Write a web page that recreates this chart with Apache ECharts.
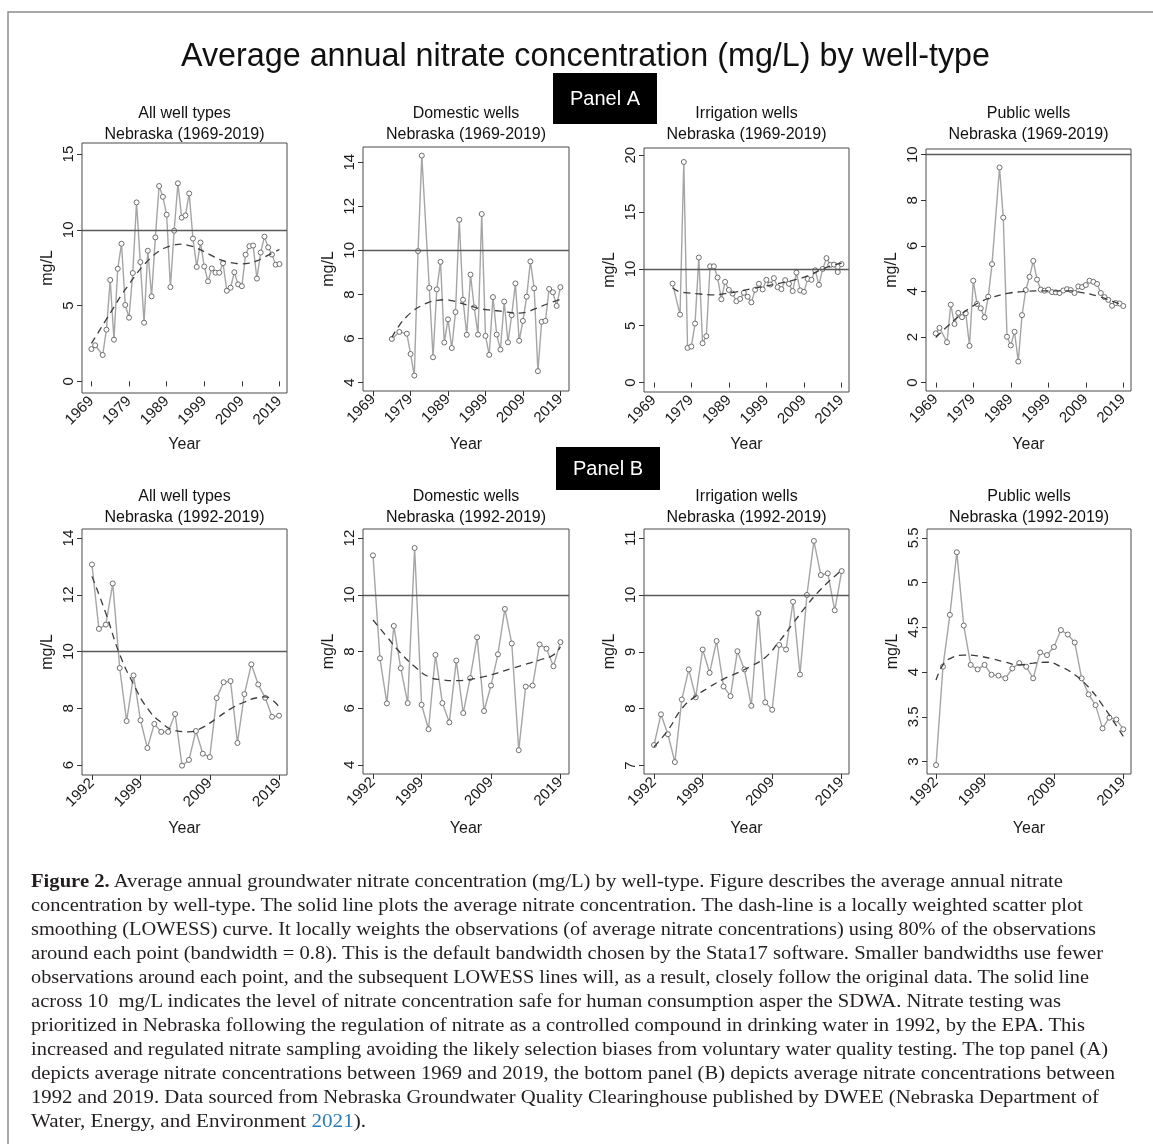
<!DOCTYPE html>
<html><head><meta charset="utf-8">
<script src="https://cdn.jsdelivr.net/npm/echarts@6/dist/echarts.min.js"></script>
<style>
html,body{margin:0;padding:0;background:#fff;}
#chart{position:absolute;left:0;top:0;width:1153px;height:1144px;}
#cap{position:absolute;left:31px;top:869px;font-family:"Liberation Serif","DejaVu Serif",serif;font-size:18px;line-height:24px;color:#231f20;}
#cap div{white-space:nowrap;transform-origin:0 50%;width:max-content;}
#cap .ref{color:#2b7bb9;}
</style></head><body>
<div id="chart"></div>
<div id="cap"></div>
<script>
// ---------------- data ----------------
const yearsAll = [1969,1970,1972,1973,1974,1975,1976,1977,1978,1979,1980,1981,1982,1983,1984,1985,1986,1987,1988,1989,1990,1991,1992,1993,1994,1995,1996,1997,1998,1999,2000,2001,2002,2003,2004,2005,2006,2007,2008,2009,2010,2011,2012,2013,2014,2015,2016,2017,2018,2019];
const valsAll  = [2.13,2.38,1.74,3.41,6.69,2.75,7.43,9.08,5.04,4.2,7.15,11.81,7.87,3.87,8.62,5.61,9.5,12.89,12.18,11.0,6.22,9.94,13.07,10.8,10.95,12.4,9.42,7.55,9.16,7.58,6.6,7.45,7.17,7.17,7.8,5.98,6.18,7.2,6.4,6.28,8.36,8.92,8.96,6.78,8.5,9.55,8.84,8.37,7.7,7.74];

const yearsDom = [1974,1976,1978,1979,1980,1981,1982,1984,1985,1986,1987,1988,1989,1990,1991,1992,1993,1994,1995,1996,1997,1998,1999,2000,2001,2002,2003,2004,2005,2006,2007,2008,2009,2010,2011,2012,2013,2014,2015,2016,2017,2018,2019];
const valsDom  = [5.98,6.3,6.22,5.3,4.32,9.97,14.3,8.3,5.15,8.23,9.48,5.82,6.87,5.57,7.2,11.39,7.76,6.17,8.9,7.41,6.18,11.65,6.12,5.26,7.88,6.18,5.5,7.68,5.83,7.06,8.5,5.9,6.8,7.9,9.5,8.28,4.52,6.76,6.8,8.25,8.1,7.48,8.33];

const yearsIrr = [1974,1976,1977,1978,1979,1980,1981,1982,1983,1984,1985,1986,1987,1988,1989,1990,1991,1992,1993,1994,1995,1996,1997,1998,1999,2000,2001,2002,2003,2004,2005,2006,2007,2008,2009,2010,2011,2012,2013,2014,2015,2016,2017,2018,2019];
const valsIrr  = [8.71,5.98,19.41,3.05,3.17,5.19,11.0,3.46,4.08,10.23,10.23,9.24,7.33,8.86,8.15,7.83,7.16,7.36,7.9,7.55,7.06,8.16,8.69,8.2,9.04,8.63,9.19,8.39,8.22,9.01,8.69,8.05,9.68,8.11,7.98,9.12,9.04,9.88,8.6,10.0,10.95,10.35,10.38,9.73,10.42];

const yearsPub = [1969,1970,1972,1973,1974,1975,1976,1977,1978,1979,1980,1981,1982,1983,1984,1986,1987,1988,1989,1990,1991,1992,1993,1994,1995,1996,1997,1998,1999,2000,2001,2002,2003,2004,2005,2006,2007,2008,2009,2010,2011,2012,2013,2014,2015,2016,2017,2018,2019];
const valsPub  = [2.16,2.4,1.77,3.42,2.57,3.06,2.87,3.04,1.61,4.47,3.45,3.26,2.86,3.77,5.2,9.44,7.24,2.01,1.63,2.23,0.92,2.96,4.06,4.64,5.34,4.52,4.08,4.03,4.08,3.97,3.96,3.93,4.04,4.1,4.06,3.93,4.22,4.19,4.28,4.47,4.42,4.33,3.93,3.75,3.63,3.37,3.49,3.47,3.36];

// LOWESS (dashed) curves
const lowAllAYears = [1969,1971,1973,1975,1977,1979,1981,1983,1985,1987,1989,1991,1993,1995,1997,1999,2001,2003,2005,2007,2009,2011,2013,2015,2017,2019];
const lowAllAVals  = [2.5,3.3,4.1,4.9,5.7,6.4,7.1,7.7,8.2,8.6,8.85,9.0,9.05,8.95,8.8,8.55,8.3,8.05,7.9,7.8,7.75,7.8,7.95,8.2,8.45,8.7];
const lowDomAYears = [1974,1976,1978,1980,1982,1984,1986,1988,1990,1992,1994,1996,1998,2000,2002,2004,2006,2008,2010,2012,2014,2016,2018,2019];
const lowDomAVals  = [6.05,6.6,7.0,7.3,7.5,7.65,7.73,7.76,7.72,7.63,7.52,7.42,7.34,7.3,7.26,7.22,7.17,7.15,7.2,7.33,7.47,7.6,7.72,7.78];
const lowIrrAYears = [1974,1976,1978,1981,1985,1988,1991,1995,1999,2003,2007,2010,2013,2016,2019];
const lowIrrAVals  = [8.35,7.98,7.9,7.8,7.72,7.83,7.98,8.25,8.5,8.77,9.08,9.38,9.85,10.25,10.5];
const lowPubAYears = [1969,1972,1975,1978,1981,1984,1988,1992,1996,2000,2005,2008,2012,2016,2019];
const lowPubAVals  = [1.98,2.45,2.89,3.26,3.55,3.74,3.91,3.99,4.02,4.02,4.02,3.95,3.8,3.58,3.38];

const lowAllBYears = [1992,1994,1996,1998,2000,2002,2004,2006,2008,2010,2012,2014,2016,2017,2018,2019];
const lowAllBVals  = [12.65,11.35,9.9,8.85,8.0,7.5,7.22,7.17,7.33,7.65,7.98,8.22,8.38,8.4,8.3,8.05];
const lowDomBYears = [1992,1994,1996,1998,2000,2002,2004,2006,2008,2010,2012,2014,2016,2018,2019];
const lowDomBVals  = [9.11,8.52,7.94,7.47,7.11,7.0,6.97,7.02,7.11,7.25,7.4,7.55,7.7,7.88,8.17];
const lowIrrBYears = [1992,1994,1996,1998,2000,2002,2004,2006,2008,2010,2012,2014,2016,2018,2019];
const lowIrrBVals  = [7.33,7.62,8.0,8.22,8.38,8.52,8.63,8.75,8.9,9.18,9.5,9.82,10.1,10.33,10.44];
const lowPubBYears = [1992,1993,1994,1996,1998,2000,2002,2004,2006,2008,2010,2012,2014,2016,2018,2019];
const lowPubBVals  = [3.91,4.08,4.15,4.19,4.18,4.15,4.11,4.08,4.1,4.11,4.06,3.97,3.83,3.63,3.4,3.28];

const xTicksA = [1969,1979,1989,1999,2009,2019];
const xTicksB = [1992,1999,2009,2019];
const yTicksAllA = [0,5,10,15];
const yTicksDomA = [4,6,8,10,12,14];
const yTicksIrrA = [0,5,10,15,20];
const yTicksPubA = [0,2,4,6,8,10];
const yTicksAllB = [6,8,10,12,14];
const yTicksDomB = [4,6,8,10,12];
const yTicksIrrB = [7,8,9,10,11];
const yTicksPubB = [3,3.5,4,4.5,5,5.5];
const safeLevel = 10;

const mainTitle = 'Average annual nitrate concentration (mg/L) by well-type';
const captionLines = [
 '<b>Figure 2.</b> Average annual groundwater nitrate concentration (mg/L) by well-type. Figure describes the average annual nitrate',
 'concentration by well-type. The solid line plots the average nitrate concentration. The dash-line is a locally weighted scatter plot',
 'smoothing (LOWESS) curve. It locally weights the observations (of average nitrate concentrations) using 80% of the observations',
 'around each point (bandwidth = 0.8). This is the default bandwidth chosen by the Stata17 software. Smaller bandwidths use fewer',
 'observations around each point, and the subsequent LOWESS lines will, as a result, closely follow the original data. The solid line',
 'across 10&nbsp; mg/L indicates the level of nitrate concentration safe for human consumption asper the SDWA. Nitrate testing was',
 'prioritized in Nebraska following the regulation of nitrate as a controlled compound in drinking water in 1992, by the EPA. This',
 'increased and regulated nitrate sampling avoiding the likely selection biases from voluntary water quality testing. The top panel (A)',
 'depicts average nitrate concentrations between 1969 and 2019, the bottom panel (B) depicts average nitrate concentrations between',
 '1992 and 2019. Data sourced from Nebraska Groundwater Quality Clearinghouse published by DWEE (Nebraska Department of',
 'Water, Energy, and Environment <span class="ref">2021</span>).'
];
const captionWidths = [1032,1052,1065,1072,1058,1030,1054,1077,1084,1068,335];

// ---------------- helpers ----------------
function pairs(ys, vs, from) {
  const out = [];
  ys.forEach((y, i) => { if (y >= from) out.push([y, vs[i]]); });
  return out;
}

const F = '"Liberation Sans", Arial, Helvetica, sans-serif';

const panels = [
  {t1:'All well types', t2:'Nebraska (1969-2019)', g:{left:82,top:143,width:205,height:250}, x:[1966.5,2021.0], y:[-0.77,15.73], xt:xTicksA, yt:yTicksAllA, d:pairs(yearsAll,valsAll,0), l:pairs(lowAllAYears,lowAllAVals,0), nameGapX:44},
  {t1:'Domestic wells', t2:'Nebraska (1969-2019)', g:{left:363,top:147,width:206,height:244}, x:[1966.3,2021.3], y:[3.62,14.69], xt:xTicksA, yt:yTicksDomA, d:pairs(yearsDom,valsDom,0), l:pairs(lowDomAYears,lowDomAVals,0), nameGapX:46},
  {t1:'Irrigation wells', t2:'Nebraska (1969-2019)', g:{left:644,top:148,width:205,height:244}, x:[1966.4,2021.0], y:[-0.83,20.64], xt:xTicksA, yt:yTicksIrrA, d:pairs(yearsIrr,valsIrr,0), l:pairs(lowIrrAYears,lowIrrAVals,0), nameGapX:45},
  {t1:'Public wells', t2:'Nebraska (1969-2019)', g:{left:926,top:149,width:205,height:242}, x:[1966.4,2021.05], y:[-0.37,10.25], xt:xTicksA, yt:yTicksPubA, d:pairs(yearsPub,valsPub,0), l:pairs(lowPubAYears,lowPubAVals,0), nameGapX:46},
  {t1:'All well types', t2:'Nebraska (1992-2019)', g:{left:82,top:529,width:205,height:246}, x:[1990.56,2020.15], y:[5.65,14.32], xt:xTicksB, yt:yTicksAllB, d:pairs(yearsAll,valsAll,1992), l:pairs(lowAllBYears,lowAllBVals,0), nameGapX:46},
  {t1:'Domestic wells', t2:'Nebraska (1992-2019)', g:{left:363,top:529,width:206,height:245}, x:[1990.56,2020.24], y:[3.68,12.32], xt:xTicksB, yt:yTicksDomB, d:pairs(yearsDom,valsDom,1992), l:pairs(lowDomBYears,lowDomBVals,0), nameGapX:47},
  {t1:'Irrigation wells', t2:'Nebraska (1992-2019)', g:{left:644,top:529,width:205,height:245}, x:[1990.56,2020.05], y:[6.85,11.16], xt:xTicksB, yt:yTicksIrrB, d:pairs(yearsIrr,valsIrr,1992), l:pairs(lowIrrBYears,lowIrrBVals,0), nameGapX:47},
  {t1:'Public wells', t2:'Nebraska (1992-2019)', g:{left:927,top:529,width:204,height:245}, x:[1990.7,2020.11], y:[2.86,5.60], xt:xTicksB, yt:yTicksPubB, d:pairs(yearsPub,valsPub,1992), l:pairs(lowPubBYears,lowPubBVals,0), nameGapX:47}
];

const grid = [], xAxis = [], yAxis = [], series = [];
const graphic = [
  {type:'rect', shape:{x:8, y:12, width:1170, height:1160}, style:{fill:'none', stroke:'#8c8c8c', lineWidth:1.5}, silent:true},
  {type:'text', x:585.5, y:57, style:{text:mainTitle, font:'32.3px ' + F, fill:'#111', textAlign:'center', textVerticalAlign:'middle'}},
  {type:'group', x:553, y:73, children:[
    {type:'rect', shape:{x:0,y:0,width:104,height:51}, style:{fill:'#000'}},
    {type:'text', x:52, y:26, style:{text:'Panel A', font:'20px ' + F, fill:'#fff', textAlign:'center', textVerticalAlign:'middle'}}
  ]},
  {type:'group', x:556, y:447, children:[
    {type:'rect', shape:{x:0,y:0,width:104,height:43}, style:{fill:'#000'}},
    {type:'text', x:52, y:22, style:{text:'Panel B', font:'20px ' + F, fill:'#fff', textAlign:'center', textVerticalAlign:'middle'}}
  ]}
];

panels.forEach((p, i) => {
  grid.push(Object.assign({show:true, borderColor:'#4a4a4a', borderWidth:1, backgroundColor:'#fff', containLabel:false}, p.g));
  const cx = p.g.left + p.g.width / 2;
  const ty = p.g.top > 400 ? 496.5 : 113.3;
  graphic.push({type:'text', x:cx, y:ty, style:{text:p.t1, font:'16px ' + F, fill:'#111', textAlign:'center', textVerticalAlign:'middle'}});
  graphic.push({type:'text', x:cx, y:ty + 21, style:{text:p.t2, font:'16px ' + F, fill:'#111', textAlign:'center', textVerticalAlign:'middle'}});
  xAxis.push({
    type:'value', gridIndex:i, min:p.x[0], max:p.x[1],
    axisLine:{show:false}, splitLine:{show:false},
    axisTick:{show:true, length:5, lineStyle:{color:'#333', width:1}, customValues:p.xt},
    axisLabel:{customValues:p.xt, rotate:45, margin:6, fontSize:15, fontFamily:F, color:'#1a1a1a', formatter:v => String(v)},
    name:'Year', nameLocation:'middle', nameGap:p.nameGapX, nameTextStyle:{fontSize:16, fontFamily:F, color:'#1a1a1a'}
  });
  yAxis.push({
    type:'value', gridIndex:i, min:p.y[0], max:p.y[1],
    axisLine:{show:false}, splitLine:{show:false},
    axisTick:{show:true, length:5, lineStyle:{color:'#333', width:1}, customValues:p.yt},
    axisLabel:{customValues:p.yt, rotate:90, margin:6, fontSize:15, fontFamily:F, color:'#1a1a1a', formatter:v => String(v)},
    name:'mg/L', nameLocation:'middle', nameGap:26, nameTextStyle:{fontSize:16, fontFamily:F, color:'#1a1a1a'}
  });
  const s = {
    type:'line', xAxisIndex:i, yAxisIndex:i, data:p.d, z:3,
    symbol:'circle', symbolSize:5, showSymbol:true,
    lineStyle:{color:'#a5a5a5', width:1.4},
    itemStyle:{color:'#ffffff', borderColor:'#6e6e6e', borderWidth:1},
    emphasis:{disabled:true}, silent:true
  };
  if (safeLevel > p.y[0] && safeLevel < p.y[1]) {
    s.markLine = {silent:true, symbol:'none', label:{show:false}, lineStyle:{color:'#5a5a5a', type:'solid', width:1.3}, data:[{yAxis:safeLevel}]};
  }
  series.push(s);
  series.push({
    type:'line', xAxisIndex:i, yAxisIndex:i, data:p.l, z:4, smooth:true,
    symbol:'none', lineStyle:{color:'#3c3c3c', width:1.3, type:[7,5]},
    emphasis:{disabled:true}, silent:true
  });
});

const chart = echarts.init(document.getElementById('chart'), null, {renderer:'canvas'});
chart.setOption({animation:false, backgroundColor:'#fff', grid, xAxis, yAxis, series, graphic});

// caption
const cap = document.getElementById('cap');
captionLines.forEach((html, i) => {
  const d = document.createElement('div');
  d.innerHTML = html;
  cap.appendChild(d);
  const w = d.getBoundingClientRect().width;
  d.style.transform = 'scaleX(' + (captionWidths[i] / w).toFixed(4) + ')';
});
</script>
</body></html>
